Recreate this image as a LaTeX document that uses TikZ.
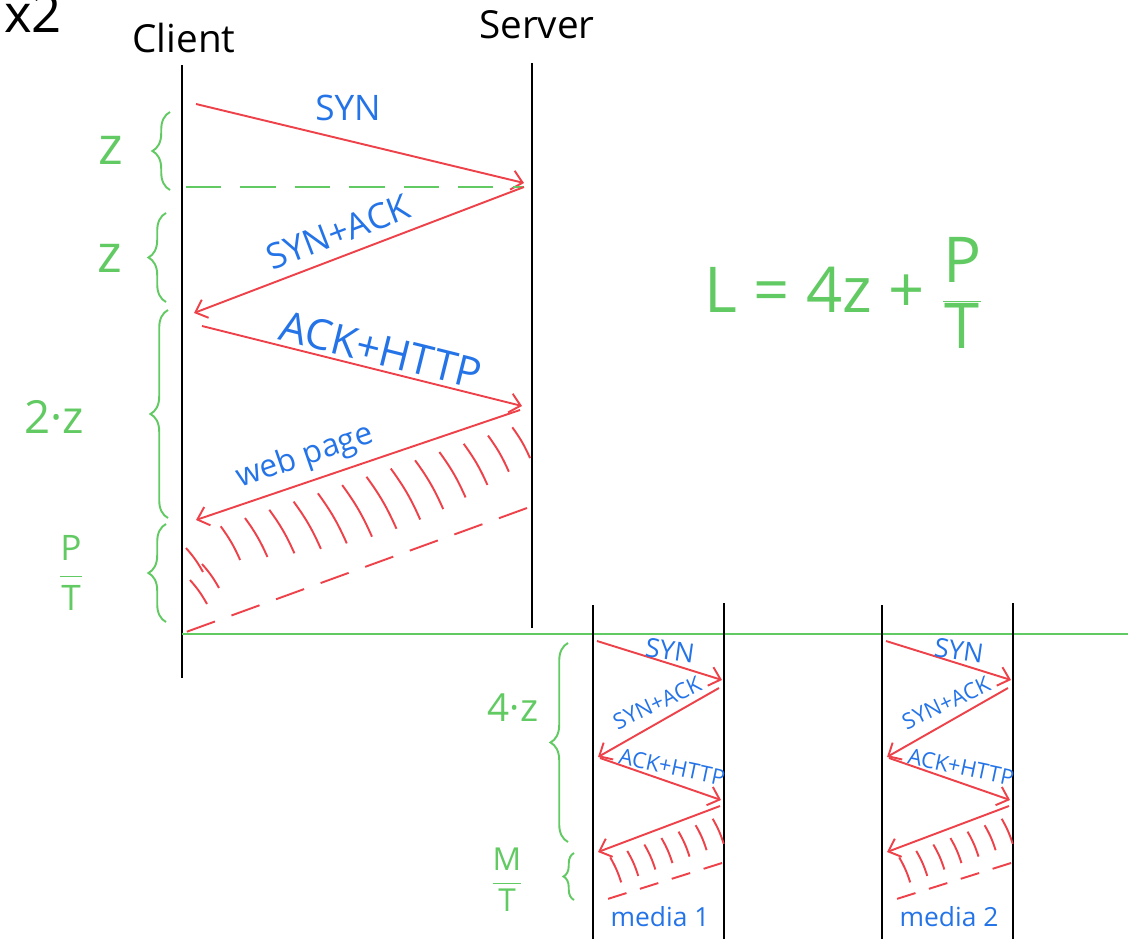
\documentclass[tikz,border=0pt]{standalone}
\usepackage{fontspec}
\setmainfont{Open Sans}
\usetikzlibrary{arrows.meta,calc,decorations.pathreplacing}

\definecolor{msgred}{RGB}{238,66,74}
\definecolor{lblblue}{RGB}{36,116,232}
\definecolor{notegreen}{RGB}{98,202,98}
\newcommand\hfrac[2]{$\displaystyle\frac{\mbox{#1}}{\mbox{#2}}$}

\begin{document}
\begin{tikzpicture}[x=0.02cm,y=-0.02cm,
    >={Straight Barb[length=6pt,width=11pt]},
    lifeline/.style={line width=1.4pt},
    msg/.style={->,msgred,line width=1.1pt},
    lbl/.style={lblblue,inner sep=1pt,font=\fontsize{20}{24}\selectfont},
    smalllbl/.style={lblblue,inner sep=0pt,font=\fontsize{12.5}{15}\selectfont},
    gnote/.style={notegreen,font=\fontsize{26}{30}\selectfont},
    gbrace/.style={notegreen,line width=1.1pt,decorate,decoration={brace,amplitude=10pt}},
    hatch/.style={msgred,line width=1.1pt},
    tail/.style={msgred,line width=1.1pt,dash pattern=on 17pt off 10pt}]
  \useasboundingbox (0,0) rectangle (1128,939);

  % titles
  \node[anchor=base west,font=\fontsize{30}{34}\selectfont] (times) at (-2,33) {x2};
  \node[font=\fontsize{22}{26}\selectfont] (client) at (184,38) {Client};
  \node[font=\fontsize{22}{26}\selectfont] (server) at (537,25) {Server};

  % lifelines
  \coordinate (c top) at (182,65);  \coordinate (c bot) at (182,678);
  \coordinate (s top) at (532,63);  \coordinate (s bot) at (532,628);
  \draw[lifeline] (c top) -- (c bot);
  \draw[lifeline] (s top) -- (s bot);

  % handshake and request
  \coordinate (syn a) at (196,104); \coordinate (syn b) at (524,183);
  \coordinate (sa a) at (524,187);  \coordinate (sa b) at (194,313);
  \coordinate (ah a) at (202,326);  \coordinate (ah b) at (522,406);
  \coordinate (wp a) at (520,410);  \coordinate (wp b) at (196,520);
  \coordinate (tail a) at (527,508); \coordinate (tail b) at (186,632);
  \coordinate (rtt) at (186,187);

  \draw[msg] (syn a) -- (syn b);
  \draw[notegreen,line width=1.1pt,dash pattern=on 20pt off 11pt] (rtt) -- (sa a);
  \draw[msg] (sa a) -- (sa b);
  \draw[msg] (ah a) -- (ah b);
  \draw[msg] (wp a) -- (wp b);
  \draw[tail] (tail a) -- (tail b);

  \node[lbl] (syn lbl) at (348,108) {SYN};
  \node[lbl,rotate=21] (sa lbl) at (338,232) {SYN+ACK};
  \node[lbl,rotate=-14,font=\fontsize{24}{28}\selectfont] (ah lbl) at (381,350) {ACK+HTTP};
  \node[lbl,rotate=19,font=\fontsize{18}{22}\selectfont] (wp lbl) at (305,457) {web page};

  % transmission of the page
  \foreach \t in {0.03,0.105,...,0.96}{
    \pgfmathsetmacro\f{0.55+0.45*sin(180*\t)}
    \draw[hatch] ($(wp a)!\t!(wp b)+(2,14)$) to[bend left=6] ++(30*\f,52*\f);
  }
  \foreach \a/\b in {186/548,190/580,202/564}
    \draw[hatch] (\a,\b) to[bend left=6] ++(17,24);

  % delays
  \draw[gbrace] (170,190) -- (170,112);
  \draw[gbrace] (166,302) -- (166,213);
  \draw[gbrace] (168,518) -- (168,310);
  \draw[gbrace] (166,622) -- (166,524);
  \node[gnote,font=\fontsize{30}{34}\selectfont] (z one) at (111,150) {z};
  \node[gnote,font=\fontsize{30}{34}\selectfont] (z two) at (110,258) {z};
  \node[gnote] (two z) at (54,417) {2·z};
  \node[gnote,font=\fontsize{20}{24}\selectfont] (p over t) at (71,573) {\hfrac{P}{T}};

  \coordinate (base a) at (182,634); \coordinate (base b) at (1128,634);
  \draw[notegreen,line width=1.2pt] (base a) -- (base b);

  \node[gnote,font=\fontsize{36}{40}\selectfont] (latency) at (844,293) {L = 4z + \hfrac{P}{T}};

  % the two media objects
  \foreach \dx/\k in {0/1,289/2}{
    \begin{scope}[shift={(\dx,0)}]
      \coordinate (l top \k) at (593,605); \coordinate (l bot \k) at (593,939);
      \coordinate (r top \k) at (724,603); \coordinate (r bot \k) at (724,939);
      \draw[lifeline] (l top \k) -- (l bot \k);
      \draw[lifeline] (r top \k) -- (r bot \k);

      \coordinate (syn a \k) at (597,641);  \coordinate (syn b \k) at (722,680);
      \coordinate (sa a \k) at (719,688);   \coordinate (sa b \k) at (598,757);
      \coordinate (ah a \k) at (600,758);   \coordinate (ah b \k) at (721,800);
      \coordinate (md a \k) at (720,806);   \coordinate (md b \k) at (598,852);
      \coordinate (tail a \k) at (722,863); \coordinate (tail b \k) at (598,902);
      \draw[msg] (syn a \k) -- (syn b \k);
      \draw[msg] (sa a \k) -- (sa b \k);
      \draw[msg] (ah a \k) -- (ah b \k);
      \draw[msg] (md a \k) -- (md b \k);
      \draw[tail,dash pattern=on 11pt off 8pt] (tail a \k) -- (tail b \k);

      \node[smalllbl,rotate=-8,font=\fontsize{15}{18}\selectfont] (syn lbl \k) at (670,651) {SYN};
      \node[smalllbl,rotate=25] (sa lbl \k) at (657,703) {SYN+ACK};
      \node[smalllbl,rotate=-12] (ah lbl \k) at (672,767) {ACK+HTTP};
      \node[smalllbl,font=\fontsize{15}{18}\selectfont] (media \k) at (660,917) {media \k};

      \foreach \t in {0.06,0.2,...,0.95}
        \draw[hatch] ($(md a \k)!\t!(md b \k)+(0,10)$) to[bend left=6] ++(11,25);
    \end{scope}
  }

  \draw[gbrace] (568,842) -- (568,643);
  \draw[gbrace,decoration={brace,amplitude=6pt}] (574,900) -- (574,853);
  \node[gnote,font=\fontsize{22}{26}\selectfont] (four z) at (513,708) {4·z};
  \node[gnote,font=\fontsize{18}{22}\selectfont] (m over t) at (507,880) {\hfrac{M}{T}};
\end{tikzpicture}
\end{document}
